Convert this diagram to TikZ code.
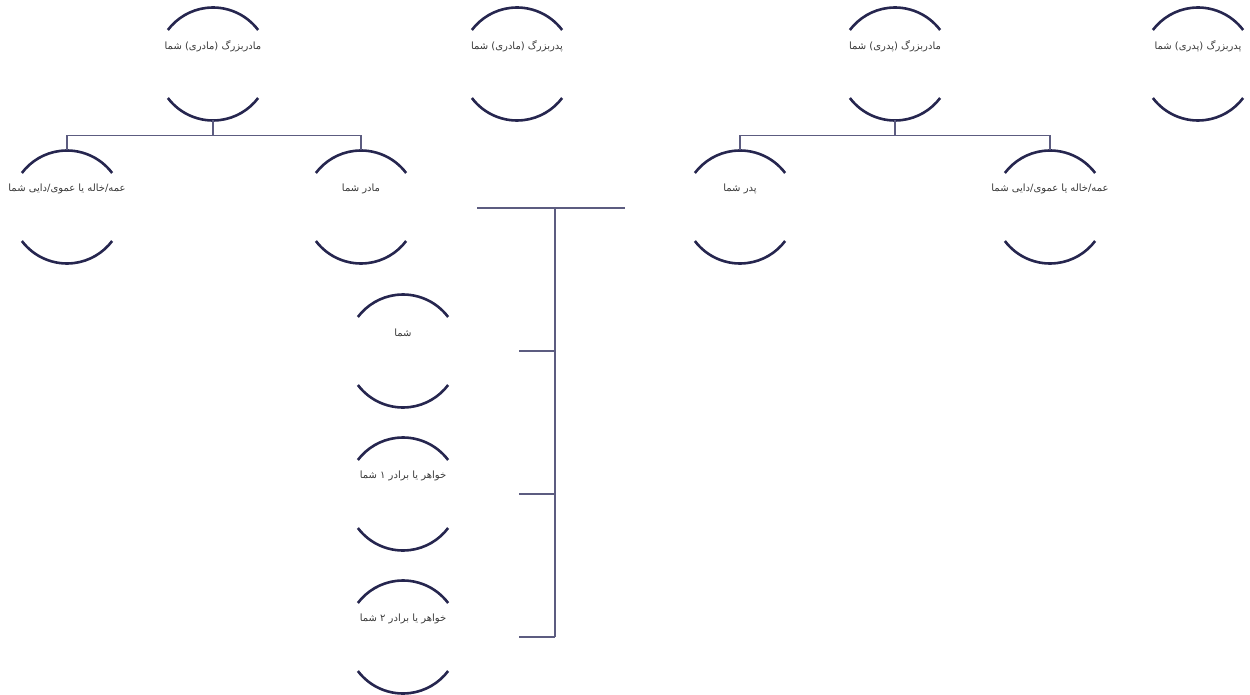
\documentclass[tikz,border=0pt]{standalone}
\usepackage{fontspec}
\usepackage{tikz}
\usetikzlibrary{calc}
\TeXXeTstate=1
\newfontfamily\fa[Script=Arabic]{DejaVu Sans}
\definecolor{ringblue}{HTML}{26264F}
\definecolor{linkblue}{HTML}{5C5C80}
\definecolor{textgray}{HTML}{3A3A3A}
\tikzstyle{person}  = [circle, minimum size=113pt, inner sep=0pt, outer sep=0pt]
\tikzstyle{caption} = [yshift=18pt, text=textgray, font=\fa\fontsize{10}{12}\selectfont]
\tikzstyle{ring}    = [draw=ringblue, line width=2.6pt]
\tikzstyle{link}    = [draw=linkblue, line width=1.4pt]

\begin{document}
\begin{tikzpicture}[x=1pt, y=1pt, node distance=143pt]
      \useasboundingbox (0,0) rectangle (1250,-695);

      \node (0A)  [person, label={[caption]center:\beginR مادربزرگ (مادری) شما\endR}] at (213,-64) {};
      \node (0B)  [person, label={[caption]center:\beginR پدربزرگ (مادری) شما\endR}] at (517,-64) {};
      \node (0C)  [person, label={[caption]center:\beginR مادربزرگ (پدری) شما\endR}] at (895,-64) {};
      \node (0D)  [person, label={[caption]center:\beginR پدربزرگ (پدری) شما\endR}] at (1198,-64) {};

      \node (1A)  [person, below of=0A, xshift=-146pt, label={[caption]center:\beginR عمه/خاله یا عموی/دایی شما\endR}] {};
      \node (1B)  [person, below of=0A, xshift=148pt,  label={[caption]center:\beginR مادر شما\endR}] {};
      \node (1C)  [person, below of=0C, xshift=-155pt, label={[caption]center:\beginR پدر شما\endR}] {};
      \node (1D)  [person, below of=0C, xshift=155pt,  label={[caption]center:\beginR عمه/خاله یا عموی/دایی شما\endR}] {};

      \node (2A)  [person, below of=1B, xshift=42pt, yshift=-1pt, label={[caption]center:\beginR شما\endR}] {};
      \node (2B)  [person, below of=2A, label={[caption]center:\beginR خواهر یا برادر ۱ شما\endR}] {};
      \node (2C)  [person, below of=2B, label={[caption]center:\beginR خواهر یا برادر ۲ شما\endR}] {};

      % only the top and bottom of each circle
      \draw [ring] (0A.37) arc (37:143:56.5pt) (0A.217) arc (217:323:56.5pt);
      \draw [ring] (0B.37) arc (37:143:56.5pt) (0B.217) arc (217:323:56.5pt);
      \draw [ring] (0C.37) arc (37:143:56.5pt) (0C.217) arc (217:323:56.5pt);
      \draw [ring] (0D.37) arc (37:143:56.5pt) (0D.217) arc (217:323:56.5pt);
      \draw [ring] (1A.37) arc (37:143:56.5pt) (1A.217) arc (217:323:56.5pt);
      \draw [ring] (1B.37) arc (37:143:56.5pt) (1B.217) arc (217:323:56.5pt);
      \draw [ring] (1C.37) arc (37:143:56.5pt) (1C.217) arc (217:323:56.5pt);
      \draw [ring] (1D.37) arc (37:143:56.5pt) (1D.217) arc (217:323:56.5pt);
      \draw [ring] (2A.37) arc (37:143:56.5pt) (2A.217) arc (217:323:56.5pt);
      \draw [ring] (2B.37) arc (37:143:56.5pt) (2B.217) arc (217:323:56.5pt);
      \draw [ring] (2C.37) arc (37:143:56.5pt) (2C.217) arc (217:323:56.5pt);

      \coordinate (forkM) at ([yshift=-15pt]0A.south);
      \coordinate (forkP) at ([yshift=-15pt]0C.south);
      \draw [link] (0A.south) -- (forkM);
      \draw [link] (forkM) -| (1A.north);
      \draw [link] (forkM) -| (1B.north);
      \draw [link] (0C.south) -- (forkP);
      \draw [link] (forkP) -| (1C.north);
      \draw [link] (forkP) -| (1D.north);

      \coordinate (wedL)  at (477,-208);
      \coordinate (wedR)  at (625,-208);
      \coordinate (trunk) at (555,-208);
      \coordinate (2Aend) at ([xshift=116pt]2A.center);
      \coordinate (2Bend) at ([xshift=116pt]2B.center);
      \coordinate (2Cend) at ([xshift=116pt]2C.center);
      \draw [link] (wedL) -- (wedR);
      \draw [link] (trunk) -- (trunk |- 2Cend);
      \draw [link] (2Aend) -- (trunk |- 2Aend);
      \draw [link] (2Bend) -- (trunk |- 2Bend);
      \draw [link] (2Cend) -- (trunk |- 2Cend);

    \end{tikzpicture}
\end{document}
